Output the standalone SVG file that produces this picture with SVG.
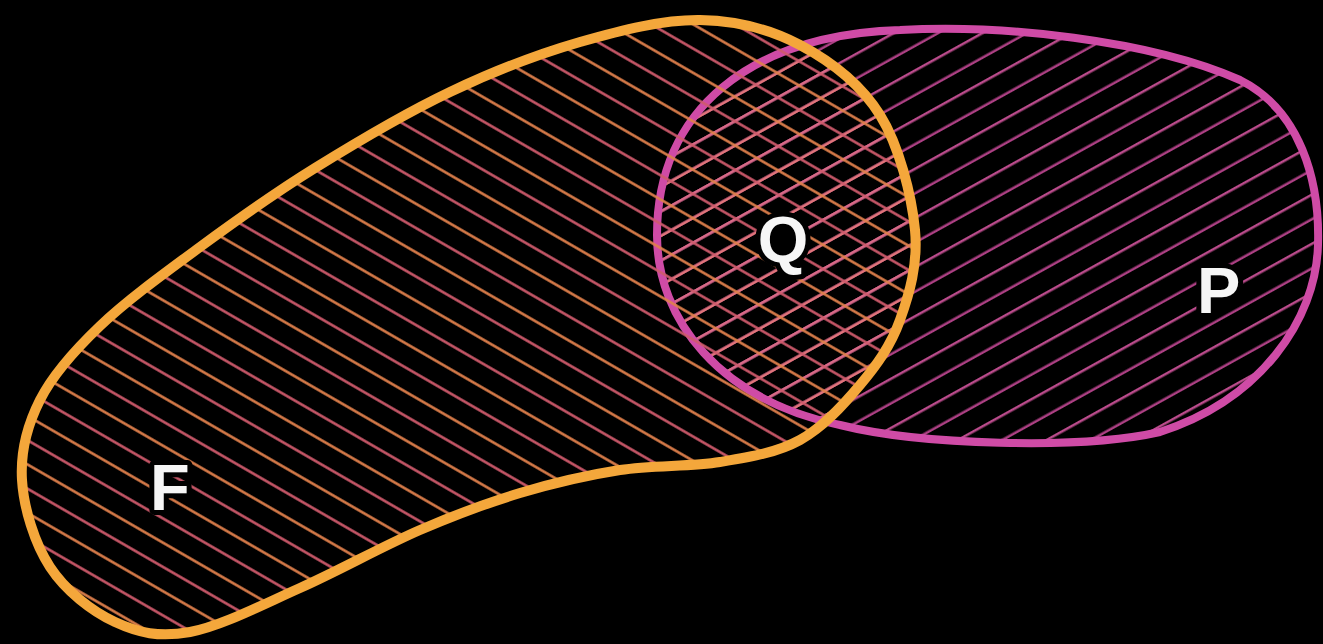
<svg xmlns="http://www.w3.org/2000/svg" width="1323" height="644" viewBox="0 0 1323 644">
  <style>
    .outlineF { fill: none; stroke: #f4a73a; stroke-width: 10; stroke-linejoin: round; }
    .outlineP { fill: none; stroke: #cf4ca6; stroke-width: 8; stroke-linejoin: round; }
    .label { font-family: "Liberation Sans", Arial, sans-serif; font-weight: 700; font-size: 65px; fill: #f6f6f6; stroke: #000; stroke-width: 10; paint-order: stroke; stroke-linejoin: round; }
    .counter { fill: #000; }
  </style>
  <defs>
    <pattern id="hatchF" patternUnits="userSpaceOnUse" width="42" height="42" patternTransform="rotate(30)">
      <line x1="-2" y1="10.5" x2="44" y2="10.5" stroke="#e0804c" stroke-width="2.5"/>
      <line x1="-2" y1="31.5" x2="44" y2="31.5" stroke="#cf5a6c" stroke-width="2.5"/>
    </pattern>
    <pattern id="hatchP" patternUnits="userSpaceOnUse" width="43" height="43" patternTransform="rotate(-29)">
      <line x1="-2" y1="10.75" x2="45" y2="10.75" stroke="#ad4084" stroke-width="2.4"/>
      <line x1="-2" y1="32.25" x2="45" y2="32.25" stroke="#bb4c8c" stroke-width="2.4"/>
    </pattern>
    <pattern id="hatchQ" patternUnits="userSpaceOnUse" width="43" height="43" patternTransform="rotate(-29)">
      <line x1="-2" y1="10.75" x2="45" y2="10.75" stroke="#e07479" stroke-width="2.4"/>
      <line x1="-2" y1="32.25" x2="45" y2="32.25" stroke="#d86a86" stroke-width="2.4"/>
    </pattern>
    <filter id="soft" x="-5%" y="-5%" width="110%" height="110%">
      <feGaussianBlur stdDeviation="0.7"/>
    </filter>
    <path id="shapeF" d="M700,20 C736.7,20.5 770,29.2 800,45 C830,60.8 860.8,84.2 880,115 C899.2,145.8 911.7,195.8 915,230 C918.3,264.2 909.2,294.2 900,320 C890.8,345.8 876.7,365 860,385 C843.3,405 823.3,427.2 800,440 C776.7,452.8 750,457 720,462 C690,467 653.3,464.8 620,470 C586.7,475.2 553.3,483 520,493 C486.7,503 456.7,514.2 420,530 C383.3,545.8 338.3,571 300,588 C261.7,605 220.8,626.3 190,632 C159.2,637.7 138.3,632.8 115,622 C91.7,611.2 65.5,590.7 50,567 C34.5,543.3 23.7,507.8 22,480 C20.3,452.2 27,425.7 40,400 C53,374.3 73.3,351.5 100,326 C126.7,300.5 164.2,273.3 200,247 C235.8,220.7 273.3,193.8 315,168 C356.7,142.2 405.8,113 450,92 C494.2,71 538.3,54 580,42 C621.7,30 663.3,19.5 700,20 Z"/>
    <path id="shapeP" d="M657,235 C657,110 750,35 900,30 C1000,24 1150,40 1240,80 C1300,110 1320,180 1318,245 C1316,320 1260,400 1160,432 C1080,450 920,445 840,425 C720,400 657,320 657,235 Z"/>
    <clipPath id="clipF"><use href="#shapeF"/></clipPath>
  </defs>
  <rect width="1323" height="644" fill="#000"/>
  <g id="connectors"/>
  <g id="node-P" filter="url(#soft)">
    <use href="#shapeP" fill="url(#hatchP)"/>
    <use href="#shapeP" fill="url(#hatchQ)" clip-path="url(#clipF)"/>
    <use href="#shapeP" class="outlineP"/>
  </g>
  <g id="node-F" filter="url(#soft)">
    <use href="#shapeF" fill="url(#hatchF)"/>
    <use href="#shapeF" class="outlineF"/>
  </g>
  <g id="labels">
    <circle class="counter" cx="783" cy="239" r="16"/>
    <circle class="counter" cx="1220" cy="283" r="10"/>
    <text id="label-F" class="label" x="150" y="510">F</text>
    <text id="label-Q" class="label" x="783" y="262" text-anchor="middle">Q</text>
    <text id="label-P" class="label" x="1197" y="313">P</text>
  </g>
</svg>
